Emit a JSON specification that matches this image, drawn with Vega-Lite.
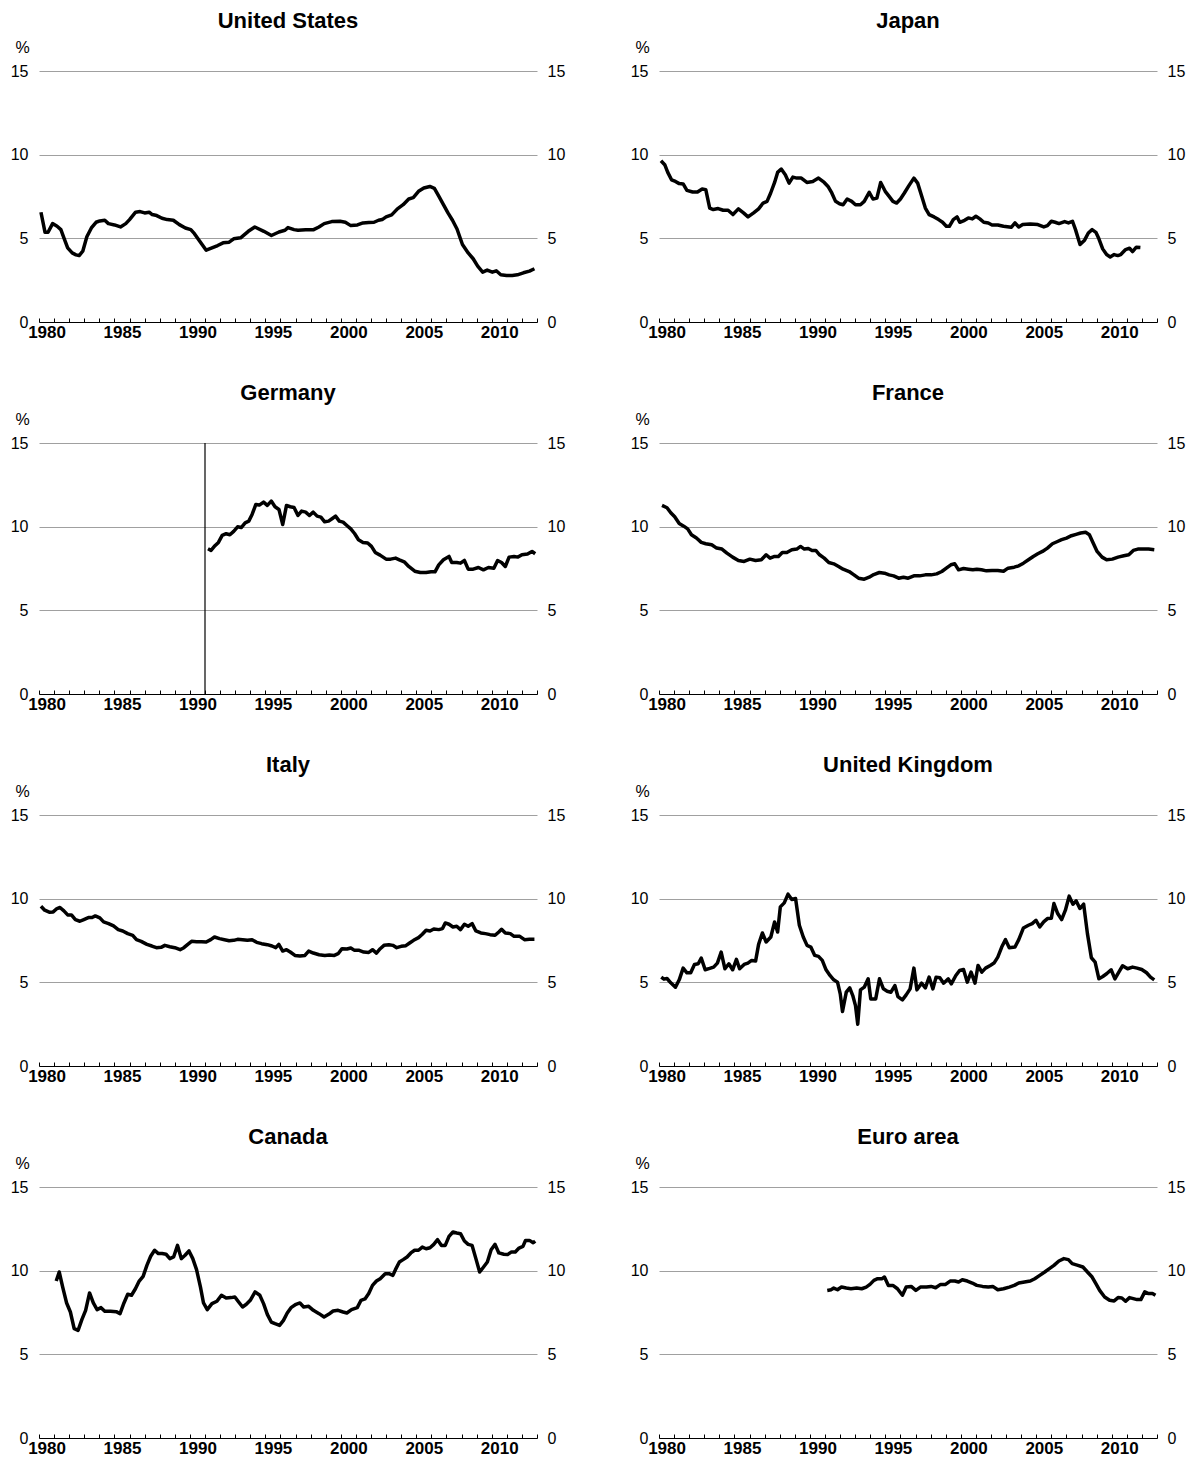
{
  "$schema": "https://vega.github.io/schema/vega-lite/v6.json",
  "padding": {"left": 10, "top": 10, "right": 5, "bottom": 5},
  "datasets": {
    "us": [
      {"t":1980.13,"v":6.56},{"t":1980.4,"v":5.36},{"t":1980.6,"v":5.36},{"t":1980.9,"v":5.88},{"t":1981.2,"v":5.72},{"t":1981.45,"v":5.52},{"t":1981.65,"v":5.03},{"t":1981.9,"v":4.43},{"t":1982.2,"v":4.13},{"t":1982.45,"v":4.01},{"t":1982.66,"v":3.97},{"t":1982.9,"v":4.23},{"t":1983.17,"v":5.09},{"t":1983.47,"v":5.62},{"t":1983.78,"v":5.96},{"t":1984.03,"v":6.04},{"t":1984.36,"v":6.08},{"t":1984.6,"v":5.88},{"t":1985.0,"v":5.8},{"t":1985.4,"v":5.68},{"t":1985.75,"v":5.88},{"t":1986.0,"v":6.12},{"t":1986.4,"v":6.56},{"t":1986.7,"v":6.6},{"t":1987.0,"v":6.52},{"t":1987.3,"v":6.56},{"t":1987.5,"v":6.42},{"t":1987.8,"v":6.36},{"t":1988.15,"v":6.2},{"t":1988.5,"v":6.12},{"t":1988.9,"v":6.08},{"t":1989.3,"v":5.82},{"t":1989.7,"v":5.62},{"t":1990.06,"v":5.52},{"t":1990.3,"v":5.28},{"t":1990.7,"v":4.77},{"t":1991.08,"v":4.29},{"t":1991.46,"v":4.43},{"t":1991.84,"v":4.57},{"t":1992.2,"v":4.73},{"t":1992.6,"v":4.77},{"t":1992.9,"v":4.97},{"t":1993.36,"v":5.03},{"t":1993.87,"v":5.42},{"t":1994.3,"v":5.68},{"t":1994.9,"v":5.42},{"t":1995.4,"v":5.17},{"t":1995.9,"v":5.38},{"t":1996.3,"v":5.48},{"t":1996.5,"v":5.64},{"t":1996.9,"v":5.52},{"t":1997.16,"v":5.48},{"t":1997.67,"v":5.52},{"t":1998.2,"v":5.52},{"t":1998.55,"v":5.68},{"t":1998.9,"v":5.88},{"t":1999.4,"v":6.0},{"t":1999.95,"v":6.02},{"t":2000.3,"v":5.96},{"t":2000.66,"v":5.76},{"t":2001.1,"v":5.8},{"t":2001.47,"v":5.92},{"t":2001.85,"v":5.94},{"t":2002.2,"v":5.96},{"t":2002.5,"v":6.08},{"t":2002.74,"v":6.12},{"t":2003.0,"v":6.28},{"t":2003.37,"v":6.4},{"t":2003.75,"v":6.76},{"t":2004.13,"v":7.01},{"t":2004.5,"v":7.35},{"t":2004.8,"v":7.43},{"t":2005.15,"v":7.81},{"t":2005.5,"v":8.01},{"t":2005.9,"v":8.1},{"t":2006.2,"v":7.99},{"t":2006.5,"v":7.51},{"t":2006.8,"v":7.01},{"t":2007.1,"v":6.52},{"t":2007.4,"v":6.08},{"t":2007.7,"v":5.56},{"t":2008.06,"v":4.63},{"t":2008.44,"v":4.13},{"t":2008.77,"v":3.78},{"t":2009.07,"v":3.34},{"t":2009.4,"v":2.98},{"t":2009.7,"v":3.1},{"t":2010.04,"v":2.98},{"t":2010.3,"v":3.06},{"t":2010.6,"v":2.82},{"t":2010.98,"v":2.78},{"t":2011.36,"v":2.78},{"t":2011.7,"v":2.82},{"t":2012.1,"v":2.94},{"t":2012.5,"v":3.04},{"t":2012.83,"v":3.18}
    ],
    "jp": [
      {"t":1980.13,"v":9.64},{"t":1980.38,"v":9.4},{"t":1980.58,"v":8.94},{"t":1980.83,"v":8.5},{"t":1981.09,"v":8.4},{"t":1981.34,"v":8.27},{"t":1981.6,"v":8.25},{"t":1981.85,"v":7.87},{"t":1982.23,"v":7.77},{"t":1982.55,"v":7.77},{"t":1982.86,"v":7.95},{"t":1983.1,"v":7.91},{"t":1983.36,"v":6.81},{"t":1983.6,"v":6.72},{"t":1983.92,"v":6.78},{"t":1984.25,"v":6.68},{"t":1984.58,"v":6.68},{"t":1984.9,"v":6.42},{"t":1985.26,"v":6.76},{"t":1985.6,"v":6.52},{"t":1985.9,"v":6.28},{"t":1986.27,"v":6.52},{"t":1986.6,"v":6.76},{"t":1986.9,"v":7.11},{"t":1987.16,"v":7.21},{"t":1987.4,"v":7.71},{"t":1987.66,"v":8.34},{"t":1987.86,"v":8.94},{"t":1988.1,"v":9.14},{"t":1988.37,"v":8.8},{"t":1988.62,"v":8.3},{"t":1988.87,"v":8.66},{"t":1989.13,"v":8.6},{"t":1989.43,"v":8.6},{"t":1989.8,"v":8.34},{"t":1990.19,"v":8.4},{"t":1990.57,"v":8.6},{"t":1990.95,"v":8.34},{"t":1991.2,"v":8.1},{"t":1991.45,"v":7.71},{"t":1991.7,"v":7.21},{"t":1991.96,"v":7.07},{"t":1992.2,"v":7.01},{"t":1992.47,"v":7.35},{"t":1992.77,"v":7.21},{"t":1993.02,"v":7.01},{"t":1993.35,"v":7.01},{"t":1993.6,"v":7.21},{"t":1993.93,"v":7.75},{"t":1994.18,"v":7.35},{"t":1994.44,"v":7.41},{"t":1994.69,"v":8.34},{"t":1994.99,"v":7.81},{"t":1995.25,"v":7.51},{"t":1995.5,"v":7.21},{"t":1995.75,"v":7.11},{"t":1996.0,"v":7.35},{"t":1996.26,"v":7.71},{"t":1996.56,"v":8.15},{"t":1996.89,"v":8.6},{"t":1997.14,"v":8.3},{"t":1997.4,"v":7.55},{"t":1997.65,"v":6.81},{"t":1997.9,"v":6.42},{"t":1998.23,"v":6.28},{"t":1998.53,"v":6.12},{"t":1998.79,"v":5.96},{"t":1999.04,"v":5.72},{"t":1999.24,"v":5.72},{"t":1999.5,"v":6.12},{"t":1999.75,"v":6.28},{"t":1999.93,"v":5.96},{"t":2000.25,"v":6.08},{"t":2000.5,"v":6.22},{"t":2000.76,"v":6.16},{"t":2001.0,"v":6.32},{"t":2001.26,"v":6.16},{"t":2001.52,"v":5.96},{"t":2001.82,"v":5.92},{"t":2002.07,"v":5.8},{"t":2002.45,"v":5.8},{"t":2002.83,"v":5.72},{"t":2003.34,"v":5.66},{"t":2003.59,"v":5.92},{"t":2003.84,"v":5.68},{"t":2004.1,"v":5.82},{"t":2004.6,"v":5.86},{"t":2005.1,"v":5.82},{"t":2005.5,"v":5.68},{"t":2005.74,"v":5.76},{"t":2006.0,"v":6.02},{"t":2006.25,"v":5.96},{"t":2006.5,"v":5.88},{"t":2006.88,"v":6.0},{"t":2007.13,"v":5.92},{"t":2007.4,"v":6.02},{"t":2007.6,"v":5.52},{"t":2007.9,"v":4.63},{"t":2008.2,"v":4.89},{"t":2008.45,"v":5.32},{"t":2008.7,"v":5.52},{"t":2008.95,"v":5.36},{"t":2009.15,"v":4.97},{"t":2009.4,"v":4.37},{"t":2009.66,"v":4.03},{"t":2009.9,"v":3.89},{"t":2010.16,"v":4.03},{"t":2010.4,"v":3.97},{"t":2010.6,"v":4.03},{"t":2010.92,"v":4.33},{"t":2011.18,"v":4.41},{"t":2011.38,"v":4.21},{"t":2011.63,"v":4.47},{"t":2011.9,"v":4.45}
    ],
    "de": [
      {"t":1991.2,"v":8.68},{"t":1991.4,"v":8.58},{"t":1991.66,"v":8.86},{"t":1991.89,"v":9.06},{"t":1992.14,"v":9.48},{"t":1992.4,"v":9.58},{"t":1992.65,"v":9.52},{"t":1992.9,"v":9.72},{"t":1993.16,"v":9.99},{"t":1993.4,"v":9.95},{"t":1993.66,"v":10.23},{"t":1993.9,"v":10.33},{"t":1994.12,"v":10.73},{"t":1994.37,"v":11.33},{"t":1994.6,"v":11.29},{"t":1994.88,"v":11.47},{"t":1995.13,"v":11.27},{"t":1995.39,"v":11.53},{"t":1995.64,"v":11.19},{"t":1995.9,"v":11.03},{"t":1996.15,"v":10.13},{"t":1996.4,"v":11.27},{"t":1996.65,"v":11.19},{"t":1996.9,"v":11.15},{"t":1997.16,"v":10.67},{"t":1997.4,"v":10.93},{"t":1997.67,"v":10.87},{"t":1997.92,"v":10.67},{"t":1998.17,"v":10.87},{"t":1998.43,"v":10.63},{"t":1998.68,"v":10.57},{"t":1998.93,"v":10.29},{"t":1999.19,"v":10.33},{"t":1999.44,"v":10.49},{"t":1999.65,"v":10.63},{"t":1999.9,"v":10.33},{"t":2000.15,"v":10.27},{"t":2000.4,"v":10.07},{"t":2000.66,"v":9.87},{"t":2000.91,"v":9.59},{"t":2001.17,"v":9.22},{"t":2001.47,"v":9.06},{"t":2001.78,"v":9.02},{"t":2002.03,"v":8.82},{"t":2002.28,"v":8.46},{"t":2002.6,"v":8.3},{"t":2003.0,"v":8.06},{"t":2003.3,"v":8.06},{"t":2003.63,"v":8.12},{"t":2003.88,"v":8.02},{"t":2004.2,"v":7.9},{"t":2004.5,"v":7.62},{"t":2004.9,"v":7.34},{"t":2005.27,"v":7.26},{"t":2005.65,"v":7.26},{"t":2005.98,"v":7.3},{"t":2006.24,"v":7.3},{"t":2006.49,"v":7.72},{"t":2006.8,"v":8.02},{"t":2007.17,"v":8.22},{"t":2007.35,"v":7.86},{"t":2007.68,"v":7.86},{"t":2007.93,"v":7.82},{"t":2008.19,"v":7.98},{"t":2008.44,"v":7.46},{"t":2008.77,"v":7.46},{"t":2009.12,"v":7.56},{"t":2009.45,"v":7.42},{"t":2009.78,"v":7.56},{"t":2010.14,"v":7.52},{"t":2010.39,"v":7.98},{"t":2010.65,"v":7.86},{"t":2010.9,"v":7.62},{"t":2011.15,"v":8.18},{"t":2011.48,"v":8.22},{"t":2011.74,"v":8.18},{"t":2012.0,"v":8.32},{"t":2012.37,"v":8.36},{"t":2012.67,"v":8.52},{"t":2012.88,"v":8.38}
    ],
    "fr": [
      {"t":1980.2,"v":11.27},{"t":1980.53,"v":11.13},{"t":1980.78,"v":10.83},{"t":1981.04,"v":10.59},{"t":1981.34,"v":10.19},{"t":1981.64,"v":10.03},{"t":1981.9,"v":9.87},{"t":1982.15,"v":9.52},{"t":1982.48,"v":9.32},{"t":1982.8,"v":9.06},{"t":1983.1,"v":8.98},{"t":1983.49,"v":8.92},{"t":1983.82,"v":8.72},{"t":1984.17,"v":8.66},{"t":1984.5,"v":8.42},{"t":1984.88,"v":8.18},{"t":1985.26,"v":7.98},{"t":1985.64,"v":7.92},{"t":1986.02,"v":8.06},{"t":1986.4,"v":7.98},{"t":1986.78,"v":8.02},{"t":1987.1,"v":8.32},{"t":1987.36,"v":8.12},{"t":1987.66,"v":8.22},{"t":1987.91,"v":8.22},{"t":1988.17,"v":8.46},{"t":1988.47,"v":8.46},{"t":1988.8,"v":8.62},{"t":1989.13,"v":8.66},{"t":1989.38,"v":8.82},{"t":1989.63,"v":8.66},{"t":1989.89,"v":8.7},{"t":1990.14,"v":8.58},{"t":1990.39,"v":8.58},{"t":1990.64,"v":8.32},{"t":1990.95,"v":8.12},{"t":1991.25,"v":7.86},{"t":1991.58,"v":7.78},{"t":1991.9,"v":7.62},{"t":1992.2,"v":7.46},{"t":1992.6,"v":7.32},{"t":1992.92,"v":7.12},{"t":1993.22,"v":6.92},{"t":1993.6,"v":6.86},{"t":1993.93,"v":6.98},{"t":1994.23,"v":7.14},{"t":1994.6,"v":7.26},{"t":1994.94,"v":7.22},{"t":1995.25,"v":7.12},{"t":1995.55,"v":7.06},{"t":1995.88,"v":6.92},{"t":1996.2,"v":6.98},{"t":1996.51,"v":6.92},{"t":1996.89,"v":7.06},{"t":1997.27,"v":7.06},{"t":1997.65,"v":7.12},{"t":1998.03,"v":7.12},{"t":1998.4,"v":7.18},{"t":1998.74,"v":7.32},{"t":1999.04,"v":7.52},{"t":1999.34,"v":7.72},{"t":1999.6,"v":7.78},{"t":1999.85,"v":7.42},{"t":2000.18,"v":7.5},{"t":2000.5,"v":7.46},{"t":2000.8,"v":7.42},{"t":2001.06,"v":7.46},{"t":2001.37,"v":7.42},{"t":2001.7,"v":7.36},{"t":2002.07,"v":7.38},{"t":2002.45,"v":7.38},{"t":2002.83,"v":7.34},{"t":2003.13,"v":7.52},{"t":2003.54,"v":7.58},{"t":2003.84,"v":7.66},{"t":2004.15,"v":7.82},{"t":2004.48,"v":8.02},{"t":2004.8,"v":8.22},{"t":2005.1,"v":8.38},{"t":2005.41,"v":8.52},{"t":2005.74,"v":8.72},{"t":2006.07,"v":8.98},{"t":2006.37,"v":9.1},{"t":2006.68,"v":9.22},{"t":2007.0,"v":9.32},{"t":2007.33,"v":9.46},{"t":2007.64,"v":9.54},{"t":2007.94,"v":9.62},{"t":2008.27,"v":9.66},{"t":2008.52,"v":9.52},{"t":2008.77,"v":9.02},{"t":2009.03,"v":8.52},{"t":2009.36,"v":8.18},{"t":2009.66,"v":8.02},{"t":2010.04,"v":8.06},{"t":2010.42,"v":8.18},{"t":2010.8,"v":8.26},{"t":2011.13,"v":8.32},{"t":2011.43,"v":8.58},{"t":2011.73,"v":8.66},{"t":2012.06,"v":8.66},{"t":2012.44,"v":8.66},{"t":2012.82,"v":8.62}
    ],
    "it": [
      {"t":1980.13,"v":9.55},{"t":1980.38,"v":9.31},{"t":1980.68,"v":9.19},{"t":1980.94,"v":9.21},{"t":1981.19,"v":9.41},{"t":1981.39,"v":9.47},{"t":1981.65,"v":9.27},{"t":1981.9,"v":9.03},{"t":1982.15,"v":9.03},{"t":1982.41,"v":8.75},{"t":1982.71,"v":8.65},{"t":1982.97,"v":8.75},{"t":1983.27,"v":8.87},{"t":1983.52,"v":8.87},{"t":1983.73,"v":8.97},{"t":1984.03,"v":8.85},{"t":1984.28,"v":8.61},{"t":1984.61,"v":8.51},{"t":1984.94,"v":8.37},{"t":1985.25,"v":8.15},{"t":1985.55,"v":8.07},{"t":1985.88,"v":7.91},{"t":1986.21,"v":7.81},{"t":1986.46,"v":7.55},{"t":1986.77,"v":7.45},{"t":1987.15,"v":7.27},{"t":1987.48,"v":7.17},{"t":1987.78,"v":7.07},{"t":1988.09,"v":7.09},{"t":1988.34,"v":7.21},{"t":1988.67,"v":7.13},{"t":1989.0,"v":7.07},{"t":1989.35,"v":6.95},{"t":1989.6,"v":7.07},{"t":1989.86,"v":7.27},{"t":1990.11,"v":7.45},{"t":1990.44,"v":7.43},{"t":1990.77,"v":7.43},{"t":1991.08,"v":7.41},{"t":1991.38,"v":7.55},{"t":1991.63,"v":7.71},{"t":1991.96,"v":7.61},{"t":1992.29,"v":7.55},{"t":1992.6,"v":7.49},{"t":1992.9,"v":7.51},{"t":1993.16,"v":7.57},{"t":1993.49,"v":7.55},{"t":1993.81,"v":7.51},{"t":1994.12,"v":7.55},{"t":1994.42,"v":7.39},{"t":1994.75,"v":7.31},{"t":1995.13,"v":7.25},{"t":1995.44,"v":7.17},{"t":1995.69,"v":7.07},{"t":1995.89,"v":7.27},{"t":1996.15,"v":6.87},{"t":1996.4,"v":6.95},{"t":1996.65,"v":6.81},{"t":1996.96,"v":6.61},{"t":1997.29,"v":6.57},{"t":1997.62,"v":6.61},{"t":1997.87,"v":6.87},{"t":1998.18,"v":6.75},{"t":1998.56,"v":6.65},{"t":1998.94,"v":6.61},{"t":1999.24,"v":6.63},{"t":1999.57,"v":6.61},{"t":1999.82,"v":6.71},{"t":2000.08,"v":7.01},{"t":2000.41,"v":6.99},{"t":2000.66,"v":7.05},{"t":2000.91,"v":6.91},{"t":2001.22,"v":6.91},{"t":2001.52,"v":6.81},{"t":2001.85,"v":6.79},{"t":2002.1,"v":6.95},{"t":2002.36,"v":6.75},{"t":2002.61,"v":7.01},{"t":2002.86,"v":7.21},{"t":2003.19,"v":7.25},{"t":2003.45,"v":7.21},{"t":2003.7,"v":7.07},{"t":2004.0,"v":7.15},{"t":2004.31,"v":7.19},{"t":2004.56,"v":7.35},{"t":2004.82,"v":7.51},{"t":2005.15,"v":7.67},{"t":2005.4,"v":7.87},{"t":2005.65,"v":8.11},{"t":2005.91,"v":8.07},{"t":2006.16,"v":8.19},{"t":2006.49,"v":8.15},{"t":2006.74,"v":8.21},{"t":2006.92,"v":8.55},{"t":2007.17,"v":8.47},{"t":2007.43,"v":8.31},{"t":2007.68,"v":8.35},{"t":2007.93,"v":8.15},{"t":2008.19,"v":8.47},{"t":2008.44,"v":8.35},{"t":2008.7,"v":8.51},{"t":2008.95,"v":8.07},{"t":2009.28,"v":7.95},{"t":2009.58,"v":7.91},{"t":2009.89,"v":7.85},{"t":2010.22,"v":7.81},{"t":2010.47,"v":8.01},{"t":2010.65,"v":8.17},{"t":2010.9,"v":7.95},{"t":2011.23,"v":7.91},{"t":2011.48,"v":7.75},{"t":2011.86,"v":7.75},{"t":2012.17,"v":7.55},{"t":2012.5,"v":7.57},{"t":2012.83,"v":7.57}
    ],
    "uk": [
      {"t":1980.15,"v":5.31},{"t":1980.33,"v":5.19},{"t":1980.53,"v":5.23},{"t":1980.78,"v":4.97},{"t":1981.09,"v":4.71},{"t":1981.34,"v":5.15},{"t":1981.6,"v":5.85},{"t":1981.85,"v":5.57},{"t":1982.1,"v":5.57},{"t":1982.35,"v":6.07},{"t":1982.6,"v":6.11},{"t":1982.8,"v":6.45},{"t":1983.06,"v":5.75},{"t":1983.36,"v":5.83},{"t":1983.62,"v":5.91},{"t":1983.87,"v":6.15},{"t":1984.12,"v":6.81},{"t":1984.37,"v":5.81},{"t":1984.63,"v":6.11},{"t":1984.88,"v":5.75},{"t":1985.13,"v":6.37},{"t":1985.34,"v":5.81},{"t":1985.64,"v":6.07},{"t":1985.89,"v":6.15},{"t":1986.14,"v":6.31},{"t":1986.4,"v":6.27},{"t":1986.6,"v":7.27},{"t":1986.85,"v":7.95},{"t":1987.1,"v":7.41},{"t":1987.41,"v":7.71},{"t":1987.66,"v":8.61},{"t":1987.86,"v":8.01},{"t":1988.04,"v":9.51},{"t":1988.3,"v":9.75},{"t":1988.55,"v":10.27},{"t":1988.8,"v":9.95},{"t":1989.05,"v":10.01},{"t":1989.3,"v":8.41},{"t":1989.56,"v":7.71},{"t":1989.81,"v":7.21},{"t":1990.06,"v":7.11},{"t":1990.32,"v":6.61},{"t":1990.57,"v":6.55},{"t":1990.82,"v":6.31},{"t":1991.07,"v":5.75},{"t":1991.33,"v":5.41},{"t":1991.58,"v":5.15},{"t":1991.83,"v":5.01},{"t":1992.01,"v":4.31},{"t":1992.16,"v":3.26},{"t":1992.41,"v":4.41},{"t":1992.64,"v":4.67},{"t":1992.84,"v":4.21},{"t":1993.02,"v":3.61},{"t":1993.17,"v":2.5},{"t":1993.35,"v":4.55},{"t":1993.6,"v":4.71},{"t":1993.86,"v":5.21},{"t":1994.03,"v":4.01},{"t":1994.36,"v":4.01},{"t":1994.61,"v":5.21},{"t":1994.87,"v":4.61},{"t":1995.12,"v":4.47},{"t":1995.37,"v":4.41},{"t":1995.63,"v":4.81},{"t":1995.83,"v":4.15},{"t":1996.13,"v":3.95},{"t":1996.38,"v":4.25},{"t":1996.64,"v":4.61},{"t":1996.89,"v":5.85},{"t":1997.09,"v":4.55},{"t":1997.4,"v":4.95},{"t":1997.65,"v":4.67},{"t":1997.9,"v":5.31},{"t":1998.15,"v":4.61},{"t":1998.36,"v":5.31},{"t":1998.61,"v":5.27},{"t":1998.86,"v":4.95},{"t":1999.17,"v":5.21},{"t":1999.37,"v":4.91},{"t":1999.67,"v":5.41},{"t":1999.92,"v":5.71},{"t":2000.18,"v":5.77},{"t":2000.43,"v":5.01},{"t":2000.68,"v":5.61},{"t":2000.94,"v":4.95},{"t":2001.14,"v":6.01},{"t":2001.39,"v":5.61},{"t":2001.64,"v":5.85},{"t":2001.95,"v":6.01},{"t":2002.2,"v":6.15},{"t":2002.45,"v":6.51},{"t":2002.71,"v":7.11},{"t":2002.96,"v":7.55},{"t":2003.21,"v":7.07},{"t":2003.59,"v":7.11},{"t":2003.84,"v":7.55},{"t":2004.15,"v":8.25},{"t":2004.48,"v":8.41},{"t":2004.73,"v":8.51},{"t":2004.98,"v":8.71},{"t":2005.23,"v":8.31},{"t":2005.49,"v":8.61},{"t":2005.74,"v":8.81},{"t":2006.0,"v":8.83},{"t":2006.17,"v":9.71},{"t":2006.42,"v":9.11},{"t":2006.68,"v":8.75},{"t":2006.93,"v":9.31},{"t":2007.18,"v":10.15},{"t":2007.43,"v":9.67},{"t":2007.64,"v":9.87},{"t":2007.89,"v":9.41},{"t":2008.14,"v":9.67},{"t":2008.39,"v":7.91},{"t":2008.65,"v":6.47},{"t":2008.9,"v":6.21},{"t":2009.15,"v":5.21},{"t":2009.41,"v":5.35},{"t":2009.66,"v":5.51},{"t":2009.96,"v":5.75},{"t":2010.21,"v":5.21},{"t":2010.47,"v":5.61},{"t":2010.72,"v":5.99},{"t":2011.05,"v":5.81},{"t":2011.38,"v":5.91},{"t":2011.68,"v":5.85},{"t":2011.99,"v":5.77},{"t":2012.31,"v":5.57},{"t":2012.57,"v":5.31},{"t":2012.82,"v":5.15}
    ],
    "ca": [
      {"t":1981.14,"v":9.38},{"t":1981.34,"v":9.92},{"t":1981.57,"v":9.02},{"t":1981.83,"v":8.07},{"t":1982.08,"v":7.53},{"t":1982.33,"v":6.53},{"t":1982.59,"v":6.43},{"t":1982.84,"v":7.07},{"t":1983.09,"v":7.63},{"t":1983.35,"v":8.67},{"t":1983.6,"v":8.07},{"t":1983.85,"v":7.67},{"t":1984.11,"v":7.79},{"t":1984.36,"v":7.57},{"t":1984.74,"v":7.57},{"t":1985.12,"v":7.55},{"t":1985.37,"v":7.43},{"t":1985.63,"v":8.07},{"t":1985.88,"v":8.59},{"t":1986.13,"v":8.53},{"t":1986.39,"v":8.92},{"t":1986.64,"v":9.38},{"t":1986.9,"v":9.66},{"t":1987.15,"v":10.32},{"t":1987.4,"v":10.86},{"t":1987.66,"v":11.22},{"t":1987.91,"v":11.02},{"t":1988.16,"v":11.02},{"t":1988.42,"v":10.98},{"t":1988.67,"v":10.72},{"t":1988.92,"v":10.82},{"t":1989.18,"v":11.51},{"t":1989.43,"v":10.72},{"t":1989.68,"v":10.92},{"t":1989.94,"v":11.18},{"t":1990.19,"v":10.72},{"t":1990.44,"v":10.06},{"t":1990.7,"v":9.02},{"t":1990.9,"v":8.07},{"t":1991.15,"v":7.67},{"t":1991.46,"v":8.03},{"t":1991.79,"v":8.17},{"t":1992.09,"v":8.53},{"t":1992.4,"v":8.37},{"t":1992.73,"v":8.39},{"t":1992.98,"v":8.43},{"t":1993.23,"v":8.13},{"t":1993.49,"v":7.83},{"t":1993.74,"v":7.99},{"t":1994.0,"v":8.23},{"t":1994.32,"v":8.73},{"t":1994.63,"v":8.53},{"t":1994.88,"v":8.03},{"t":1995.13,"v":7.39},{"t":1995.39,"v":6.93},{"t":1995.64,"v":6.83},{"t":1995.94,"v":6.73},{"t":1996.2,"v":7.03},{"t":1996.45,"v":7.47},{"t":1996.7,"v":7.79},{"t":1997.03,"v":7.99},{"t":1997.29,"v":8.07},{"t":1997.54,"v":7.83},{"t":1997.87,"v":7.87},{"t":1998.18,"v":7.63},{"t":1998.56,"v":7.43},{"t":1998.89,"v":7.23},{"t":1999.19,"v":7.39},{"t":1999.49,"v":7.59},{"t":1999.82,"v":7.63},{"t":2000.15,"v":7.53},{"t":2000.4,"v":7.47},{"t":2000.71,"v":7.67},{"t":2001.09,"v":7.79},{"t":2001.34,"v":8.23},{"t":2001.6,"v":8.31},{"t":2001.85,"v":8.63},{"t":2002.1,"v":9.12},{"t":2002.36,"v":9.38},{"t":2002.61,"v":9.52},{"t":2002.94,"v":9.82},{"t":2003.19,"v":9.82},{"t":2003.45,"v":9.72},{"t":2003.62,"v":10.06},{"t":2003.88,"v":10.52},{"t":2004.13,"v":10.66},{"t":2004.39,"v":10.82},{"t":2004.64,"v":11.06},{"t":2004.89,"v":11.22},{"t":2005.15,"v":11.22},{"t":2005.4,"v":11.41},{"t":2005.65,"v":11.31},{"t":2005.91,"v":11.37},{"t":2006.16,"v":11.57},{"t":2006.41,"v":11.85},{"t":2006.67,"v":11.51},{"t":2006.92,"v":11.51},{"t":2007.17,"v":12.05},{"t":2007.43,"v":12.31},{"t":2007.68,"v":12.25},{"t":2007.93,"v":12.21},{"t":2008.19,"v":11.77},{"t":2008.44,"v":11.57},{"t":2008.7,"v":11.51},{"t":2008.95,"v":10.72},{"t":2009.2,"v":9.92},{"t":2009.46,"v":10.22},{"t":2009.71,"v":10.52},{"t":2009.96,"v":11.25},{"t":2010.22,"v":11.57},{"t":2010.47,"v":11.06},{"t":2010.8,"v":10.98},{"t":2011.05,"v":10.96},{"t":2011.31,"v":11.12},{"t":2011.56,"v":11.12},{"t":2011.81,"v":11.35},{"t":2012.07,"v":11.45},{"t":2012.24,"v":11.81},{"t":2012.5,"v":11.81},{"t":2012.75,"v":11.67},{"t":2012.88,"v":11.77}
    ],
    "ea": [
      {"t":1991.15,"v":8.82},{"t":1991.4,"v":8.86},{"t":1991.58,"v":8.96},{"t":1991.83,"v":8.86},{"t":1992.09,"v":9.02},{"t":1992.41,"v":8.96},{"t":1992.72,"v":8.92},{"t":1993.1,"v":8.96},{"t":1993.43,"v":8.92},{"t":1993.73,"v":9.02},{"t":1993.98,"v":9.18},{"t":1994.24,"v":9.42},{"t":1994.49,"v":9.52},{"t":1994.79,"v":9.52},{"t":1994.94,"v":9.62},{"t":1995.2,"v":9.12},{"t":1995.5,"v":9.12},{"t":1995.8,"v":8.92},{"t":1996.13,"v":8.53},{"t":1996.38,"v":9.02},{"t":1996.71,"v":9.06},{"t":1997.02,"v":8.82},{"t":1997.32,"v":9.02},{"t":1997.72,"v":9.02},{"t":1998.03,"v":9.06},{"t":1998.33,"v":8.98},{"t":1998.66,"v":9.18},{"t":1998.99,"v":9.18},{"t":1999.29,"v":9.38},{"t":1999.6,"v":9.38},{"t":1999.85,"v":9.32},{"t":2000.1,"v":9.46},{"t":2000.43,"v":9.38},{"t":2000.76,"v":9.26},{"t":2001.06,"v":9.12},{"t":2001.44,"v":9.06},{"t":2001.82,"v":9.02},{"t":2002.12,"v":9.06},{"t":2002.45,"v":8.86},{"t":2002.83,"v":8.92},{"t":2003.21,"v":9.02},{"t":2003.54,"v":9.12},{"t":2003.84,"v":9.26},{"t":2004.22,"v":9.32},{"t":2004.6,"v":9.38},{"t":2004.9,"v":9.52},{"t":2005.23,"v":9.72},{"t":2005.56,"v":9.92},{"t":2005.87,"v":10.12},{"t":2006.17,"v":10.32},{"t":2006.5,"v":10.58},{"t":2006.83,"v":10.72},{"t":2007.13,"v":10.66},{"t":2007.38,"v":10.42},{"t":2007.76,"v":10.32},{"t":2008.09,"v":10.22},{"t":2008.39,"v":9.92},{"t":2008.7,"v":9.62},{"t":2008.95,"v":9.22},{"t":2009.2,"v":8.82},{"t":2009.53,"v":8.43},{"t":2009.86,"v":8.23},{"t":2010.16,"v":8.19},{"t":2010.42,"v":8.39},{"t":2010.67,"v":8.37},{"t":2010.92,"v":8.17},{"t":2011.18,"v":8.39},{"t":2011.43,"v":8.33},{"t":2011.68,"v":8.27},{"t":2011.93,"v":8.27},{"t":2012.19,"v":8.73},{"t":2012.44,"v":8.63},{"t":2012.7,"v":8.63},{"t":2012.9,"v":8.53}
    ]
  },
  "columns": 2,
  "spacing": {"row": 121, "column": 122},
  "bounds": "flush",
  "concat": [
    {"title": "United States", "width": 498, "height": 251, "data": {"name": "us"},
     "layer": [
      {"mark": {"type": "line", "color": "black", "strokeWidth": 3.5, "strokeJoin": "round"},
       "encoding": {"x": {"field": "t", "type": "quantitative", "title": null, "scale": {"domain": [1980, 2013], "nice": false, "zero": false}, "axis": {"labelExpr": "datum.value % 5 === 0 ? '' + datum.value : ''"}},
                    "y": {"field": "v", "type": "quantitative", "title": "%", "scale": {"domain": [0, 15], "nice": false}, "axis": {"orient": "left"}}}},
      {"mark": {"type": "line", "strokeOpacity": 0},
       "encoding": {"x": {"field": "t", "type": "quantitative", "title": null, "axis": {"labelExpr": "datum.value % 5 === 0 ? '' + datum.value : ''"}},
                    "y": {"field": "v", "type": "quantitative", "title": null, "axis": {"orient": "right"}}}}
     ],
     "resolve": {"axis": {"y": "independent"}}},
    {"title": "Japan", "width": 498, "height": 251, "data": {"name": "jp"},
     "layer": [
      {"mark": {"type": "line", "color": "black", "strokeWidth": 3.5, "strokeJoin": "round"},
       "encoding": {"x": {"field": "t", "type": "quantitative", "title": null, "scale": {"domain": [1980, 2013], "nice": false, "zero": false}, "axis": {"labelExpr": "datum.value % 5 === 0 ? '' + datum.value : ''"}},
                    "y": {"field": "v", "type": "quantitative", "title": "%", "scale": {"domain": [0, 15], "nice": false}, "axis": {"orient": "left"}}}},
      {"mark": {"type": "line", "strokeOpacity": 0},
       "encoding": {"x": {"field": "t", "type": "quantitative", "title": null, "axis": {"labelExpr": "datum.value % 5 === 0 ? '' + datum.value : ''"}},
                    "y": {"field": "v", "type": "quantitative", "title": null, "axis": {"orient": "right"}}}}
     ],
     "resolve": {"axis": {"y": "independent"}}},
    {"title": "Germany", "width": 498, "height": 251, "data": {"name": "de"},
     "layer": [
      {"data": {"values": [{"t": 1991.0}]},
       "mark": {"type": "rule", "color": "black", "strokeWidth": 1.2},
       "encoding": {"x": {"field": "t", "type": "quantitative", "title": null, "axis": {"labelExpr": "datum.value % 5 === 0 ? '' + datum.value : ''"}}}},
      {"mark": {"type": "line", "color": "black", "strokeWidth": 3.5, "strokeJoin": "round"},
       "encoding": {"x": {"field": "t", "type": "quantitative", "title": null, "scale": {"domain": [1980, 2013], "nice": false, "zero": false}, "axis": {"labelExpr": "datum.value % 5 === 0 ? '' + datum.value : ''"}},
                    "y": {"field": "v", "type": "quantitative", "title": "%", "scale": {"domain": [0, 15], "nice": false}, "axis": {"orient": "left"}}}},
      {"mark": {"type": "line", "strokeOpacity": 0},
       "encoding": {"x": {"field": "t", "type": "quantitative", "title": null, "axis": {"labelExpr": "datum.value % 5 === 0 ? '' + datum.value : ''"}},
                    "y": {"field": "v", "type": "quantitative", "title": null, "axis": {"orient": "right"}}}}
     ],
     "resolve": {"axis": {"y": "independent"}}},
    {"title": "France", "width": 498, "height": 251, "data": {"name": "fr"},
     "layer": [
      {"mark": {"type": "line", "color": "black", "strokeWidth": 3.5, "strokeJoin": "round"},
       "encoding": {"x": {"field": "t", "type": "quantitative", "title": null, "scale": {"domain": [1980, 2013], "nice": false, "zero": false}, "axis": {"labelExpr": "datum.value % 5 === 0 ? '' + datum.value : ''"}},
                    "y": {"field": "v", "type": "quantitative", "title": "%", "scale": {"domain": [0, 15], "nice": false}, "axis": {"orient": "left"}}}},
      {"mark": {"type": "line", "strokeOpacity": 0},
       "encoding": {"x": {"field": "t", "type": "quantitative", "title": null, "axis": {"labelExpr": "datum.value % 5 === 0 ? '' + datum.value : ''"}},
                    "y": {"field": "v", "type": "quantitative", "title": null, "axis": {"orient": "right"}}}}
     ],
     "resolve": {"axis": {"y": "independent"}}},
    {"title": "Italy", "width": 498, "height": 251, "data": {"name": "it"},
     "layer": [
      {"mark": {"type": "line", "color": "black", "strokeWidth": 3.5, "strokeJoin": "round"},
       "encoding": {"x": {"field": "t", "type": "quantitative", "title": null, "scale": {"domain": [1980, 2013], "nice": false, "zero": false}, "axis": {"labelExpr": "datum.value % 5 === 0 ? '' + datum.value : ''"}},
                    "y": {"field": "v", "type": "quantitative", "title": "%", "scale": {"domain": [0, 15], "nice": false}, "axis": {"orient": "left"}}}},
      {"mark": {"type": "line", "strokeOpacity": 0},
       "encoding": {"x": {"field": "t", "type": "quantitative", "title": null, "axis": {"labelExpr": "datum.value % 5 === 0 ? '' + datum.value : ''"}},
                    "y": {"field": "v", "type": "quantitative", "title": null, "axis": {"orient": "right"}}}}
     ],
     "resolve": {"axis": {"y": "independent"}}},
    {"title": "United Kingdom", "width": 498, "height": 251, "data": {"name": "uk"},
     "layer": [
      {"mark": {"type": "line", "color": "black", "strokeWidth": 3.5, "strokeJoin": "round"},
       "encoding": {"x": {"field": "t", "type": "quantitative", "title": null, "scale": {"domain": [1980, 2013], "nice": false, "zero": false}, "axis": {"labelExpr": "datum.value % 5 === 0 ? '' + datum.value : ''"}},
                    "y": {"field": "v", "type": "quantitative", "title": "%", "scale": {"domain": [0, 15], "nice": false}, "axis": {"orient": "left"}}}},
      {"mark": {"type": "line", "strokeOpacity": 0},
       "encoding": {"x": {"field": "t", "type": "quantitative", "title": null, "axis": {"labelExpr": "datum.value % 5 === 0 ? '' + datum.value : ''"}},
                    "y": {"field": "v", "type": "quantitative", "title": null, "axis": {"orient": "right"}}}}
     ],
     "resolve": {"axis": {"y": "independent"}}},
    {"title": "Canada", "width": 498, "height": 251, "data": {"name": "ca"},
     "layer": [
      {"mark": {"type": "line", "color": "black", "strokeWidth": 3.5, "strokeJoin": "round"},
       "encoding": {"x": {"field": "t", "type": "quantitative", "title": null, "scale": {"domain": [1980, 2013], "nice": false, "zero": false}, "axis": {"labelExpr": "datum.value % 5 === 0 ? '' + datum.value : ''"}},
                    "y": {"field": "v", "type": "quantitative", "title": "%", "scale": {"domain": [0, 15], "nice": false}, "axis": {"orient": "left"}}}},
      {"mark": {"type": "line", "strokeOpacity": 0},
       "encoding": {"x": {"field": "t", "type": "quantitative", "title": null, "axis": {"labelExpr": "datum.value % 5 === 0 ? '' + datum.value : ''"}},
                    "y": {"field": "v", "type": "quantitative", "title": null, "axis": {"orient": "right"}}}}
     ],
     "resolve": {"axis": {"y": "independent"}}},
    {"title": "Euro area", "width": 498, "height": 251, "data": {"name": "ea"},
     "layer": [
      {"mark": {"type": "line", "color": "black", "strokeWidth": 3.5, "strokeJoin": "round"},
       "encoding": {"x": {"field": "t", "type": "quantitative", "title": null, "scale": {"domain": [1980, 2013], "nice": false, "zero": false}, "axis": {"labelExpr": "datum.value % 5 === 0 ? '' + datum.value : ''"}},
                    "y": {"field": "v", "type": "quantitative", "title": "%", "scale": {"domain": [0, 15], "nice": false}, "axis": {"orient": "left"}}}},
      {"mark": {"type": "line", "strokeOpacity": 0},
       "encoding": {"x": {"field": "t", "type": "quantitative", "title": null, "axis": {"labelExpr": "datum.value % 5 === 0 ? '' + datum.value : ''"}},
                    "y": {"field": "v", "type": "quantitative", "title": null, "axis": {"orient": "right"}}}}
     ],
     "resolve": {"axis": {"y": "independent"}}}
  ],
  "config": {
    "view": {"stroke": null},
    "font": "Liberation Sans",
    "title": {"fontSize": 22, "fontWeight": "bold", "color": "black", "font": "Liberation Sans", "offset": 6},
    "axis": {"labelFont": "Liberation Sans", "labelColor": "black", "titleFont": "Liberation Sans", "titleColor": "black"},
    "axisX": {"tickCount": 33, "labelOffset": 7.55, "labelFontWeight": "bold", "labelFontSize": 17, "labelOverlap": false, "labelFlush": false, "labelBound": false, "tickSize": -4, "tickColor": "black", "tickWidth": 1, "domainColor": "black", "domainWidth": 1, "labelPadding": 6, "grid": false, "zindex": 1},
    "axisLeft": {"tickCount": 3, "grid": true, "gridColor": "#a0a0a0", "gridWidth": 1, "domain": false, "ticks": false, "labelFontSize": 16, "labelPadding": 11, "titleAngle": 0, "titleX": -17, "titleY": -24, "titleAlign": "center", "titleBaseline": "middle", "titleFontSize": 16, "titleFontWeight": "normal"},
    "axisRight": {"tickCount": 3, "grid": false, "domain": false, "ticks": false, "labelFontSize": 16, "labelPadding": 10}
  }
}
